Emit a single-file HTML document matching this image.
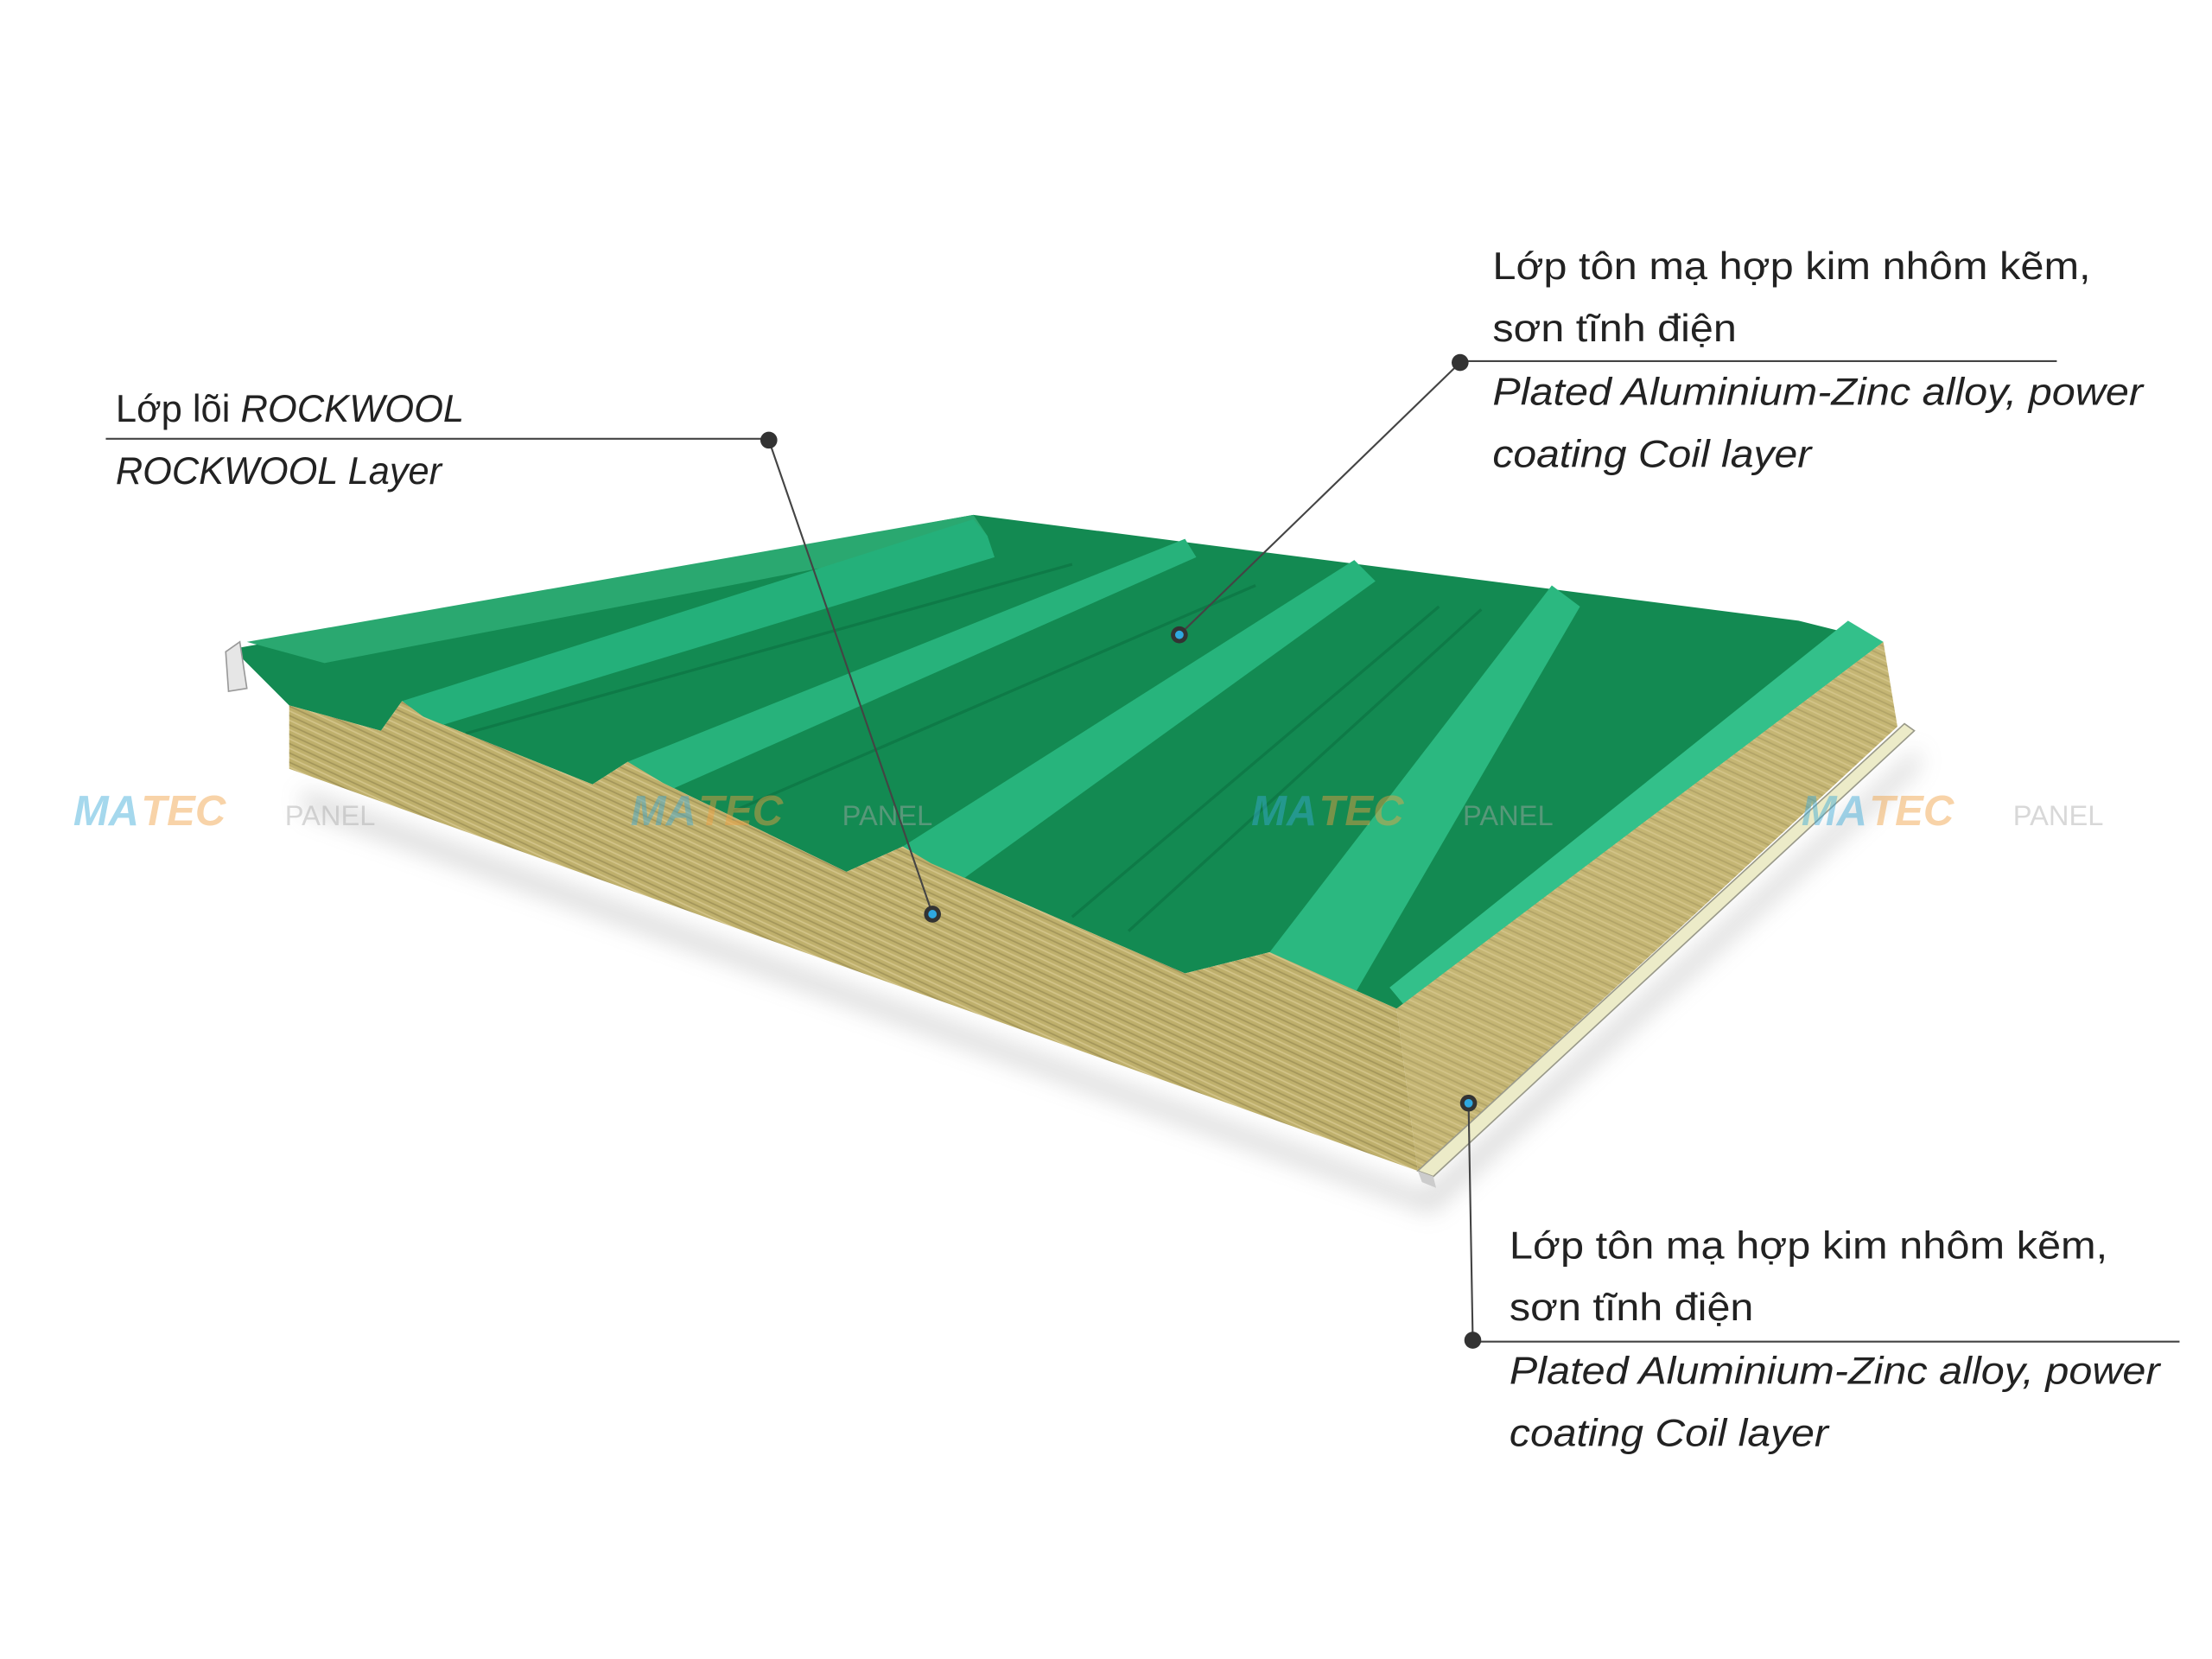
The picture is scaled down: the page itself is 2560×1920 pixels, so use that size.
<!DOCTYPE html>
<html><head><meta charset="utf-8"><style>
html,body{margin:0;padding:0;background:#fff;}
svg{display:block;}
text{font-family:"Liberation Sans",sans-serif;fill:#222;}
</style></head><body>
<svg width="2560" height="1920" viewBox="0 0 1568 1176" xmlns="http://www.w3.org/2000/svg">
<defs>
<pattern id="wool" width="6" height="6" patternUnits="userSpaceOnUse" patternTransform="rotate(25)">
<rect width="6" height="6" fill="#bfb06c"/>
<line x1="0" y1="1" x2="6" y2="1" stroke="#a3955a" stroke-width="1"/>
<line x1="0" y1="4" x2="6" y2="4" stroke="#d3c48a" stroke-width="1"/>
</pattern>
<filter id="blur"><feGaussianBlur stdDeviation="8"/></filter>
</defs>
<rect width="1568" height="1176" fill="#fff"/>
<polygon points="215,560 1010,845 1360,530 1360,545 1015,860 215,575" fill="#999" opacity="0.35" filter="url(#blur)"/>
<polygon points="165,460 690,365 1275,440 1335,455 990,715 900,675 840,690 660,612 640,600 600,618 470,555 445,540 420,556 300,508 285,497 270,518 205,500" fill="#138a52"/>
<polygon points="160,462 170,455 175,488 162,490" fill="#e6e6e6" stroke="#999" stroke-width="1"/>
<polygon points="175,455 690,365 700,380 230,470" fill="#2aa870"/>
<polygon points="285,497 310,515 705,395 700,380 690,368" fill="#24b07a"/>
<polygon points="445,540 475,560 848,395 840,382" fill="#27b27b"/>
<polygon points="640,600 680,625 975,412 960,397" fill="#27b47c"/>
<polygon points="900,675 960,705 1120,430 1100,415" fill="#2bb880"/>
<polygon points="985,700 995,712 1335,455 1310,440" fill="#33c08a"/>
<polyline points="330,520 760,400" stroke="#0e7a47" stroke-width="2" fill="none"/>
<polyline points="520,575 890,415" stroke="#0e7a47" stroke-width="2" fill="none"/>
<polyline points="760,650 1020,430" stroke="#0e7a47" stroke-width="2" fill="none"/>
<polyline points="800,660 1050,432" stroke="#0e7a47" stroke-width="2" fill="none"/>
<polygon points="205,500 270,518 285,497 300,508 420,556 445,540 470,555 600,618 640,600 660,612 840,690 900,675 990,715 1005,830 205,545" fill="url(#wool)"/>
<polygon points="990,715 1335,455 1345,515 1005,830" fill="url(#wool)"/>
<polygon points="990,715 1335,455 1345,515 1005,830" fill="#d4c388" opacity="0.3"/>
<polygon points="1005,830 1350,513 1357,518 1016,834" fill="#ecebc8" stroke="#9a9a8a" stroke-width="1"/>
<polygon points="1005,830 1016,834 1018,842 1008,838" fill="#ccc"/>
<g font-size="30" font-weight="bold" font-style="italic" opacity="0.45">
<text x="52" y="585" style="fill:#39a9d8">MA</text><text x="100" y="585" style="fill:#f0a040">TEC</text><text x="202" y="585" font-weight="normal" font-style="normal" font-size="20" style="fill:#aaa">PANEL</text>
<text x="447" y="585" style="fill:#39a9d8">MA</text><text x="495" y="585" style="fill:#f0a040">TEC</text><text x="597" y="585" font-weight="normal" font-style="normal" font-size="20" style="fill:#aaa">PANEL</text>
<text x="887" y="585" style="fill:#39a9d8">MA</text><text x="935" y="585" style="fill:#f0a040">TEC</text><text x="1037" y="585" font-weight="normal" font-style="normal" font-size="20" style="fill:#aaa">PANEL</text>
<text x="1277" y="585" style="fill:#39a9d8">MA</text><text x="1325" y="585" style="fill:#f0a040">TEC</text><text x="1427" y="585" font-weight="normal" font-style="normal" font-size="20" style="fill:#aaa">PANEL</text>
</g>
<g stroke="#444" stroke-width="1.3" fill="none">
<line x1="75" y1="311" x2="545" y2="311"/>
<line x1="545" y1="312" x2="661" y2="648"/>
<line x1="1035" y1="256" x2="1458" y2="256"/>
<line x1="1035" y1="257" x2="836" y2="450"/>
<line x1="1044" y1="951" x2="1545" y2="951"/>
<line x1="1044" y1="950" x2="1041" y2="782"/>
</g>
<g fill="#333">
<circle cx="545" cy="312" r="6"/><circle cx="1035" cy="257" r="6"/><circle cx="1044" cy="950" r="6"/>
</g>
<g>
<circle cx="661" cy="648" r="6" fill="#333"/><circle cx="661" cy="648" r="3" fill="#2fa8e0"/>
<circle cx="836" cy="450" r="6" fill="#333"/><circle cx="836" cy="450" r="3" fill="#2fa8e0"/>
<circle cx="1041" cy="782" r="6" fill="#333"/><circle cx="1041" cy="782" r="3" fill="#2fa8e0"/>
</g>
<g font-size="27">
<text x="82" y="299" textLength="247" lengthAdjust="spacingAndGlyphs">Lớp lõi <tspan font-style="italic">ROCKWOOL</tspan></text>
<text x="82" y="343" font-style="italic" textLength="231" lengthAdjust="spacingAndGlyphs">ROCKWOOL Layer</text>
<text x="1058" y="198" textLength="424" lengthAdjust="spacingAndGlyphs">Lớp tôn mạ hợp kim nhôm kẽm,</text>
<text x="1058" y="242" textLength="173" lengthAdjust="spacingAndGlyphs">sơn tĩnh điện</text>
<text x="1058" y="287" font-style="italic" textLength="461" lengthAdjust="spacingAndGlyphs">Plated Aluminium-Zinc alloy, power</text>
<text x="1058" y="331" font-style="italic" textLength="226" lengthAdjust="spacingAndGlyphs">coating Coil layer</text>
<text x="1070" y="892" textLength="424" lengthAdjust="spacingAndGlyphs">Lớp tôn mạ hợp kim nhôm kẽm,</text>
<text x="1070" y="936" textLength="173" lengthAdjust="spacingAndGlyphs">sơn tĩnh điện</text>
<text x="1070" y="981" font-style="italic" textLength="461" lengthAdjust="spacingAndGlyphs">Plated Aluminium-Zinc alloy, power</text>
<text x="1070" y="1025" font-style="italic" textLength="226" lengthAdjust="spacingAndGlyphs">coating Coil layer</text>
</g>
</svg>
</body></html>
